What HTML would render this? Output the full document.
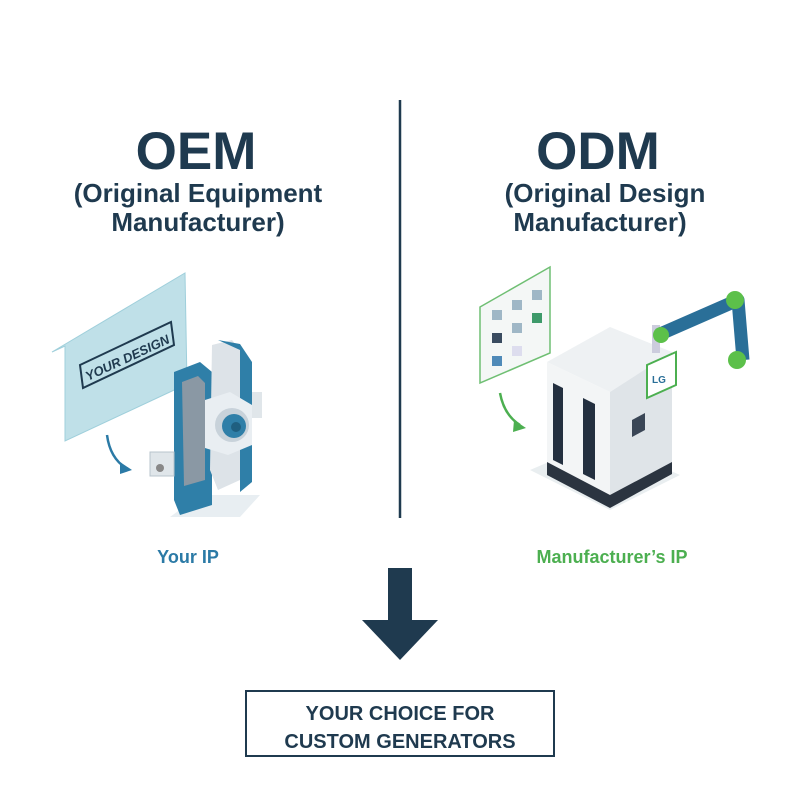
<!DOCTYPE html>
<html><head><meta charset="utf-8"><style>
body{margin:0;background:#fff;}
svg{display:block;}
text{font-family:"Liberation Sans",sans-serif;font-weight:bold;}
</style></head><body>
<svg width="800" height="800" viewBox="0 0 800 800" xmlns="http://www.w3.org/2000/svg">
<rect width="800" height="800" fill="#fff"/>
<line x1="400" y1="100" x2="400" y2="518" stroke="#1f3a4f" stroke-width="2.5"/>
<g fill="#1f3a4f" text-anchor="middle">
<text x="196" y="169" font-size="53">OEM</text>
<text x="198" y="202" font-size="26">(Original Equipment</text>
<text x="198" y="231" font-size="26">Manufacturer)</text>
<text x="598" y="169" font-size="53">ODM</text>
<text x="605" y="202" font-size="26">(Original Design</text>
<text x="600" y="231" font-size="26">Manufacturer)</text>
<text x="188" y="563" font-size="18" fill="#2b7aa6">Your IP</text>
<text x="612" y="563" font-size="18" fill="#4caf50">Manufacturer’s IP</text>
<text x="400" y="720" font-size="20">YOUR CHOICE FOR</text>
<text x="400" y="748" font-size="20">CUSTOM GENERATORS</text>
</g>
<rect x="388" y="568" width="24" height="54" fill="#1f3a4f"/>
<polygon points="362,620 438,620 400,660" fill="#1f3a4f"/>
<rect x="246" y="691" width="308" height="65" fill="none" stroke="#1f3a4f" stroke-width="2"/>

<!-- left panel -->
<polygon points="52,352 185,273 187,384 65,441 65,346" fill="#bfe0e8" stroke="#9fcfdb"/>
<polygon points="80,365 171,322 174,345 83,388" fill="none" stroke="#1f3a4f" stroke-width="2"/>
<text x="0" y="0" font-size="13" fill="#1f3a4f" font-style="italic" transform="translate(88,381) rotate(-25)">YOUR DESIGN</text>
<path d="M107,435 Q110,458 126,468" fill="none" stroke="#2b7aa6" stroke-width="2.5"/>
<polygon points="120,462 132,470 120,474" fill="#2b7aa6"/>
<!-- machine -->
<polygon points="170,517 240,517 260,495 200,495" fill="#e8eef2"/>
<polygon points="174,372 200,362 212,372 212,505 180,515 174,500" fill="#2f7fa8"/>
<polygon points="182,382 198,376 205,383 205,480 184,486" fill="#8a98a4"/>
<polygon points="212,345 232,340 240,350 240,480 218,490 210,470" fill="#dde3e8"/>
<polygon points="218,340 240,344 252,362 252,482 240,492 240,350" fill="#2f7fa8"/>
<polygon points="205,400 230,392 252,405 252,445 228,455 205,448" fill="#e9eef2"/>
<circle cx="232" cy="425" r="17" fill="#c8d2da"/>
<circle cx="234" cy="426" r="12" fill="#2f7fa8"/>
<circle cx="236" cy="427" r="5" fill="#1f5f80"/>
<rect x="150" y="452" width="24" height="24" fill="#e0e6ea" stroke="#b8c4cc"/>
<circle cx="160" cy="468" r="4" fill="#888"/>
<rect x="252" y="392" width="10" height="26" fill="#e0e6ea"/>

<!-- right board -->
<polygon points="480,307 550,267 550,353 480,383" fill="#f4f7f6" stroke="#6fbf73" stroke-width="1.5"/>
<g fill="#9fb7c6">
<rect x="492" y="310" width="10" height="10"/><rect x="512" y="300" width="10" height="10"/><rect x="532" y="290" width="10" height="10"/>
<rect x="492" y="333" width="10" height="10" fill="#3a4c60"/><rect x="512" y="323" width="10" height="10"/><rect x="532" y="313" width="10" height="10" fill="#3e9a6a"/>
<rect x="492" y="356" width="10" height="10" fill="#4f8ab8"/><rect x="512" y="346" width="10" height="10" fill="#dde"/>
</g>
<path d="M500,393 Q504,415 520,425" fill="none" stroke="#4caf50" stroke-width="2.5"/>
<polygon points="514,420 526,428 513,432" fill="#4caf50"/>
<!-- cabinet -->
<polygon points="530,470 610,510 680,475 600,440" fill="#e9eef0"/>
<polygon points="547,362 610,327 672,352 610,392" fill="#eef1f3"/>
<polygon points="547,362 610,392 610,505 547,472" fill="#f3f5f6"/>
<polygon points="610,392 672,352 672,472 610,505" fill="#dfe4e8"/>
<polygon points="547,462 610,495 610,508 547,475" fill="#2b3440"/>
<polygon points="610,495 672,462 672,474 610,508" fill="#2b3440"/>
<polygon points="553,383 563,388 563,465 553,460" fill="#243040"/>
<polygon points="583,398 595,404 595,480 583,474" fill="#243040"/>
<polygon points="632,420 645,413 645,430 632,437" fill="#3a4656"/>
<!-- robot arm -->
<rect x="652" y="325" width="8" height="28" fill="#ccd"/>
<path d="M658,335 L738,300 L743,360" fill="none" stroke="#2a6f98" stroke-width="13" stroke-linejoin="round"/>
<circle cx="661" cy="335" r="8" fill="#5cc04a"/>
<circle cx="735" cy="300" r="9" fill="#5cc04a"/>
<circle cx="737" cy="360" r="9" fill="#5cc04a"/>
<polygon points="647,365 676,352 676,385 647,398" fill="#fff" stroke="#4caf50" stroke-width="2"/>
<text x="652" y="383" font-size="10" fill="#2a6f98">LG</text>
</svg>
</body></html>
